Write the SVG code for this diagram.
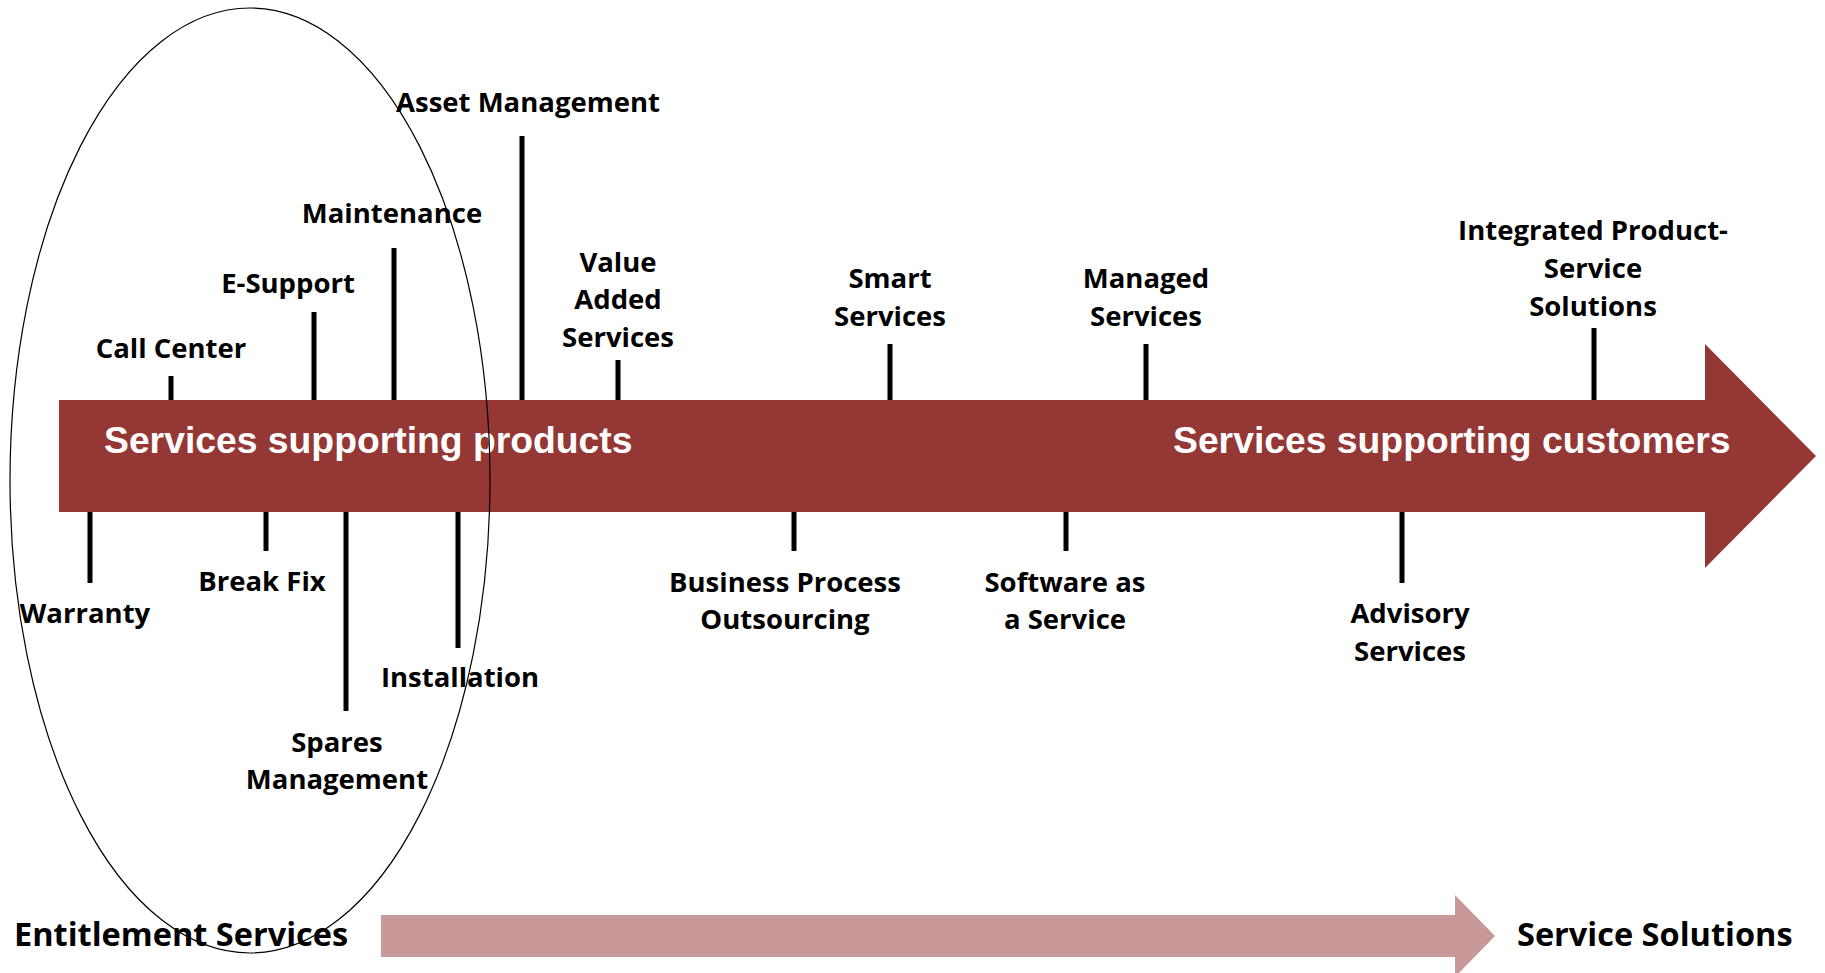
<svg xmlns="http://www.w3.org/2000/svg" width="1825" height="973" viewBox="0 0 1825 973">
<style>
.lbl{font-family:"Open Sans","Noto Sans",sans-serif;font-weight:700;font-size:27.5px;fill:#000;text-anchor:middle}
.big{font-family:"Open Sans","Noto Sans",sans-serif;font-weight:700;font-size:32.5px;fill:#000}
.band{font-family:"Liberation Sans",Arial,sans-serif;font-weight:700;font-size:37.3px;fill:#fff}
.tick{stroke:#000;stroke-width:5;fill:none}
</style>
<rect width="1825" height="973" fill="#fff"/>
<g id="main-arrow">
<polygon points="59,400 1705,400 1705,344 1816,456 1705,568 1705,512 59,512" fill="#953735"/>
<text class="band" x="104" y="453">Services supporting products</text>
<text class="band" x="1173" y="453">Services supporting customers</text>
</g>
<g id="progress-arrow">
<polygon points="381,915 1455,915 1455,895 1495,936 1455,977 1455,957 381,957" fill="#C99999"/>
</g>
<g id="connectors">
<line class="tick" x1="171" y1="400" x2="171" y2="376"/>
<line class="tick" x1="314" y1="400" x2="314" y2="312"/>
<line class="tick" x1="394" y1="400" x2="394" y2="248"/>
<line class="tick" x1="522" y1="400" x2="522" y2="136"/>
<line class="tick" x1="618" y1="400" x2="618" y2="360"/>
<line class="tick" x1="890" y1="400" x2="890" y2="344"/>
<line class="tick" x1="1146" y1="400" x2="1146" y2="344"/>
<line class="tick" x1="1594" y1="400" x2="1594" y2="328"/>
<line class="tick" x1="90" y1="512" x2="90" y2="583"/>
<line class="tick" x1="266" y1="512" x2="266" y2="551"/>
<line class="tick" x1="346" y1="512" x2="346" y2="711"/>
<line class="tick" x1="458" y1="512" x2="458" y2="648"/>
<line class="tick" x1="794" y1="512" x2="794" y2="551"/>
<line class="tick" x1="1066" y1="512" x2="1066" y2="551"/>
<line class="tick" x1="1402" y1="512" x2="1402" y2="583"/>
</g>
<g id="call-center"><text class="lbl" x="171" y="358">Call Center</text></g>
<g id="e-support"><text class="lbl" x="288" y="293">E-Support</text></g>
<g id="maintenance"><text class="lbl" x="392" y="223">Maintenance</text></g>
<g id="asset-management"><text class="lbl" x="528" y="112">Asset Management</text></g>
<g id="value-added-services"><text class="lbl" x="618" y="272">Value</text><text class="lbl" x="618" y="309">Added</text><text class="lbl" x="618" y="347">Services</text></g>
<g id="smart-services"><text class="lbl" x="890" y="288">Smart</text><text class="lbl" x="890" y="326">Services</text></g>
<g id="managed-services"><text class="lbl" x="1146" y="288">Managed</text><text class="lbl" x="1146" y="326">Services</text></g>
<g id="integrated-solutions"><text class="lbl" x="1593" y="240">Integrated Product-</text><text class="lbl" x="1593" y="278">Service</text><text class="lbl" x="1593" y="316">Solutions</text></g>
<g id="warranty"><text class="lbl" x="85" y="623">Warranty</text></g>
<g id="break-fix"><text class="lbl" x="262" y="591">Break Fix</text></g>
<g id="spares-management"><text class="lbl" x="337" y="752">Spares</text><text class="lbl" x="337" y="789">Management</text></g>
<g id="installation"><text class="lbl" x="460" y="687">Installation</text></g>
<g id="bpo"><text class="lbl" x="785" y="592">Business Process</text><text class="lbl" x="785" y="629">Outsourcing</text></g>
<g id="saas"><text class="lbl" x="1065" y="592">Software as</text><text class="lbl" x="1065" y="629">a Service</text></g>
<g id="advisory-services"><text class="lbl" x="1410" y="623">Advisory</text><text class="lbl" x="1410" y="661">Services</text></g>
<g id="entitlement-services"><text class="big" x="14" y="946">Entitlement Services</text></g>
<g id="service-solutions"><text class="big" x="1517" y="946">Service Solutions</text></g>
<g id="entitlement-ellipse"><ellipse cx="250" cy="480.5" rx="240" ry="472.5" fill="none" stroke="#000" stroke-width="1.2"/></g>
</svg>
